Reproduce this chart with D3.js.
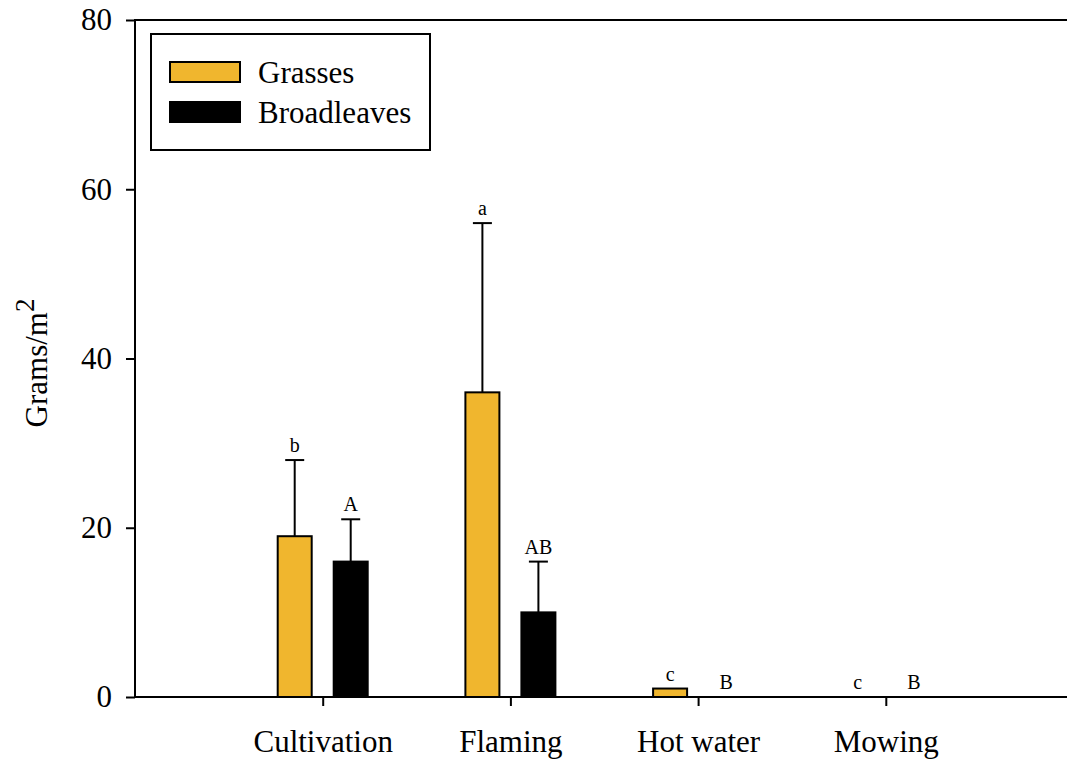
<!DOCTYPE html>
<html>
<head>
<meta charset="utf-8">
<script src="https://cdn.jsdelivr.net/npm/d3@7/dist/d3.min.js"></script>
<style>
  html, body { margin: 0; padding: 0; background: #fff; }
  svg { display: block; }
  text { font-family: "Liberation Serif", "Times New Roman", serif; fill: #000; }
</style>
</head>
<body>
<svg id="chart" width="1067" height="763"></svg>
<script>
// ---- data ----
const categories = ["Cultivation", "Flaming", "Hot water", "Mowing"];
const seriesNames = ["Grasses", "Broadleaves"];
const grasses = [19, 36, 1, 0];
const grassesErr = [9, 20, 0, 0];
const broadleaves = [16, 10, 0, 0];
const broadleavesErr = [5, 6, 0, 0];
const grassLetters = ["b", "a", "c", "c"];
const broadLetters = ["A", "AB", "B", "B"];
const yTicks = [0, 20, 40, 60, 80];

// ---- layout ----
const W = 1067, H = 763;
const mLeft = 135, mTop = 20, mBottom = 697;
const svg = d3.select("#chart");
const colors = { Grasses: "#F0B62E", Broadleaves: "#000000" };

const y = d3.scaleLinear().domain([0, 80]).range([mBottom, mTop]);
// categories sit at positions 1..4 on a 0..5 axis
const x = d3.scaleLinear().domain([0, 5]).range([mLeft, mLeft + 5 * 187.7]);
const xOff = d3.scaleBand().domain(seriesNames).range([-45, 45]).paddingInner(22 / 56).paddingOuter(0);

const rows = [];
categories.forEach((c, i) => {
  rows.push({ cat: c, i, s: "Grasses", v: grasses[i], e: grassesErr[i], L: grassLetters[i] });
  rows.push({ cat: c, i, s: "Broadleaves", v: broadleaves[i], e: broadleavesErr[i], L: broadLetters[i] });
});

// bars
svg.append("g").selectAll("rect").data(rows.filter(d => d.v > 0)).join("rect")
  .attr("x", d => x(d.i + 1) + xOff(d.s))
  .attr("y", d => y(d.v))
  .attr("width", xOff.bandwidth())
  .attr("height", d => y(0) - y(d.v))
  .attr("fill", d => colors[d.s])
  .attr("stroke", "#000")
  .attr("stroke-width", 2);

// error bars (upper only)
const eb = svg.append("g").attr("stroke", "#000").attr("stroke-width", 2);
rows.filter(d => d.e > 0).forEach(d => {
  const cx = x(d.i + 1) + xOff(d.s) + xOff.bandwidth() / 2;
  eb.append("line").attr("x1", cx).attr("x2", cx).attr("y1", y(d.v)).attr("y2", y(d.v + d.e));
  eb.append("line").attr("x1", cx - 9.5).attr("x2", cx + 9.5).attr("y1", y(d.v + d.e)).attr("y2", y(d.v + d.e));
});

// significance letters
svg.append("g").selectAll("text").data(rows).join("text")
  .attr("x", d => x(d.i + 1) + xOff(d.s) + xOff.bandwidth() / 2)
  .attr("y", d => y(d.v + d.e) - 8)
  .attr("text-anchor", "middle")
  .attr("font-size", 20)
  .text(d => d.L);

// axes
const yAxis = d3.axisLeft(y).tickValues(yTicks).tickSize(9).tickPadding(14).tickFormat(d3.format("d"));
const gy = svg.append("g").attr("transform", `translate(${mLeft},0)`).call(yAxis);
gy.select(".domain").remove();
gy.selectAll("line").attr("stroke", "#000").attr("stroke-width", 2);
gy.selectAll("text").attr("font-size", 31).attr("font-family", "Liberation Serif");

const xAxis = d3.axisBottom(x).tickValues([1, 2, 3, 4]).tickSize(9).tickPadding(24)
  .tickFormat(d => categories[d - 1]);
const gx = svg.append("g").attr("transform", `translate(0,${mBottom})`).call(xAxis);
gx.select(".domain").remove();
gx.selectAll("line").attr("stroke", "#000").attr("stroke-width", 2);
gx.selectAll("text").attr("font-size", 31).attr("font-family", "Liberation Serif");

// frame lines: left, bottom, top
const frame = svg.append("g").attr("stroke", "#000").attr("stroke-width", 2);
frame.append("line").attr("x1", mLeft).attr("x2", mLeft).attr("y1", mTop - 1).attr("y2", mBottom + 1);
frame.append("line").attr("x1", mLeft).attr("x2", W).attr("y1", mBottom).attr("y2", mBottom);
frame.append("line").attr("x1", mLeft).attr("x2", W).attr("y1", mTop).attr("y2", mTop);

// y title
const yt = svg.append("text")
  .attr("transform", `translate(47,363) rotate(-90)`)
  .attr("text-anchor", "middle")
  .attr("font-size", 31);
yt.append("tspan").text("Grams/m");
yt.append("tspan").attr("dy", -13).attr("font-size", 27).text("2");

// legend
const lg = svg.append("g");
lg.append("rect").attr("x", 151).attr("y", 34).attr("width", 279).attr("height", 116)
  .attr("fill", "#fff").attr("stroke", "#000").attr("stroke-width", 2);
seriesNames.forEach((s, k) => {
  const yy = 62 + k * 40;
  lg.append("rect").attr("x", 170).attr("y", yy).attr("width", 70).attr("height", 20)
    .attr("fill", colors[s]).attr("stroke", "#000").attr("stroke-width", 2);
  lg.append("text").attr("x", 258).attr("y", yy + 21).attr("font-size", 31).text(s);
});
</script>
</body>
</html>
